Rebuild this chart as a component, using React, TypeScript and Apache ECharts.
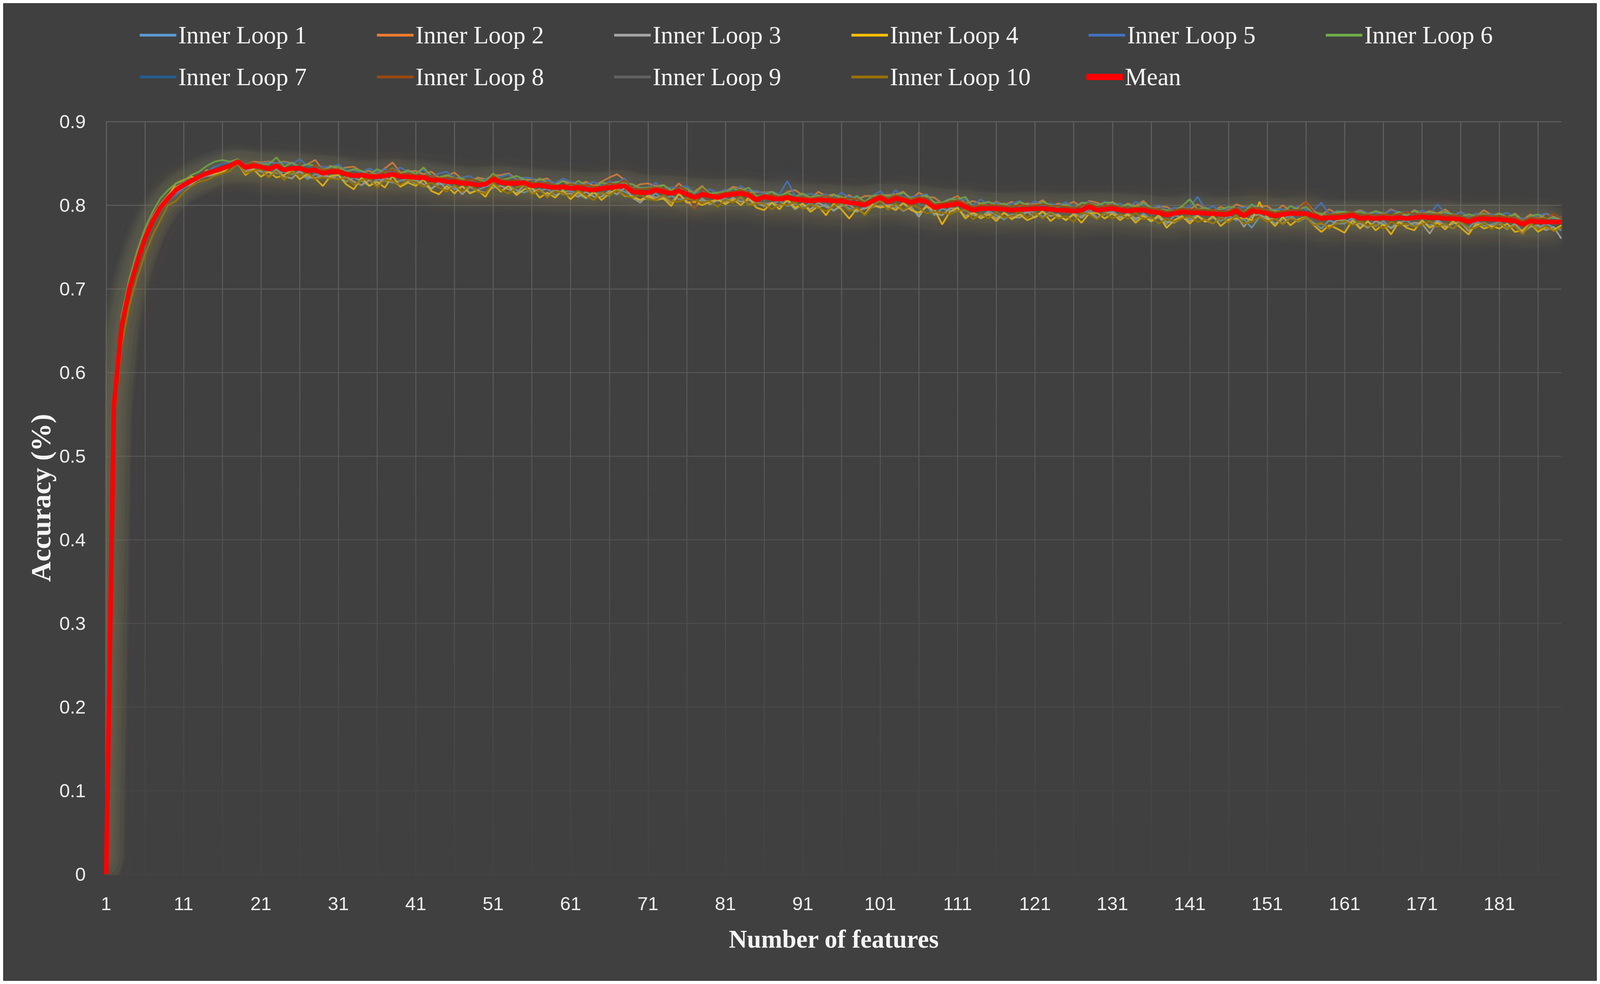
import React, { useEffect, useRef } from "react";
import * as echarts from "echarts";

// Number of features (category axis)
const features: string[] = Array.from({ length: 189 }, (_, i) => String(i + 1));

// Accuracy values, in thousandths
const mean = [
  0,560,655,700,732,760,781,797,808,818,
  824,829,834,838,841,844,847,852,845,847,
  846,843,847,842,844,844,841,842,838,840,
  840,837,835,836,834,834,835,837,834,834,
  833,833,830,830,828,828,826,826,824,825,
  831,827,826,826,827,823,824,822,821,822,
  820,821,819,818,820,821,822,823,816,815,
  815,818,816,814,817,813,809,813,811,809,
  812,813,814,812,806,810,808,807,809,807,
  806,805,806,806,805,805,803,802,800,805,
  809,804,808,806,803,806,804,797,799,800,
  802,798,794,796,796,796,795,794,795,795,
  796,796,795,794,794,793,794,798,794,795,
  796,794,793,794,794,792,791,788,790,792,
  791,791,790,790,789,789,793,787,793,792,
  790,787,789,790,790,790,787,784,785,785,
  786,788,784,785,784,785,784,785,784,785,
  786,785,785,784,784,783,780,783,784,783,
  783,782,781,777,781,780,780,780,780,
];

const loop1 = [
  0,565,660,705,735,762,784,800,806,816,
  822,826,833,836,838,845,848,851,843,842,
  840,840,838,840,837,840,831,837,835,832,
  836,828,833,829,823,831,829,827,829,832,
  825,830,820,825,826,819,822,815,818,822,
  826,817,823,818,815,819,817,820,812,816,
  817,813,808,814,814,811,820,816,811,806,
  808,814,807,811,807,808,807,805,805,805,
  808,804,809,801,803,802,802,805,799,802,
  798,802,797,801,793,801,796,792,798,799,
  806,797,797,802,795,788,799,788,796,793,
  793,794,788,786,793,788,783,789,788,793,
  791,786,792,786,783,789,787,796,785,789,
  793,786,788,782,790,783,785,777,788,785,
  784,788,780,785,781,787,782,783,773,786,
  786,778,783,788,780,785,779,772,782,778,
  778,785,773,780,775,781,772,779,782,775,
  781,775,782,776,772,779,773,781,775,777,
  780,773,776,766,777,772,778,773,770,
];

const loop2 = [
  0,562,652,698,735,765,786,801,812,822,
  826,831,836,837,843,842,849,850,848,852,
  851,852,850,852,850,846,849,854,842,847,
  843,845,846,840,841,836,844,851,839,840,
  841,837,840,833,835,839,831,828,833,831,
  835,836,838,831,830,831,830,832,824,829,
  826,824,828,823,828,833,837,830,820,825,
  826,823,824,817,826,817,816,823,813,815,
  816,822,820,815,816,815,816,809,816,818,
  812,808,816,811,813,807,812,806,811,811,
  812,812,813,816,807,815,810,809,802,807,
  811,802,805,802,799,804,800,804,799,802,
  801,806,798,802,800,804,798,805,803,798,
  804,797,802,799,805,796,798,798,793,798,
  795,801,796,793,798,794,801,798,797,799,
  799,792,800,793,797,804,793,788,795,790,
  792,791,794,790,792,789,795,791,787,794,
  790,793,790,795,787,792,786,787,794,788,
  790,785,790,782,789,784,790,786,783,
];

const loop3 = [
  0,555,650,698,728,757,779,794,805,815,
  821,825,832,835,836,840,846,849,840,843,
  841,834,843,834,832,841,834,832,836,834,
  831,834,828,824,830,824,833,829,823,829,
  830,825,819,828,819,823,813,822,817,815,
  821,823,819,814,824,815,819,811,819,813,
  814,810,816,810,810,817,813,821,809,803,
  812,809,810,803,813,805,797,808,801,806,
  803,809,804,806,803,799,803,799,805,795,
  801,795,803,798,794,799,801,793,796,798,
  799,800,800,793,798,786,801,790,788,796,
  796,787,791,787,791,784,791,786,785,792,
  785,792,787,789,782,790,785,792,784,791,
  791,785,790,784,788,780,787,780,779,785,
  781,787,782,778,786,780,788,774,787,789,
  783,784,778,785,781,786,777,778,773,782,
  782,778,778,773,781,777,773,780,775,779,
  778,766,781,774,778,780,769,776,779,774,
  778,771,778,768,774,776,770,774,760,
];

const loop4 = [
  0,558,658,702,730,758,778,795,810,826,
  830,834,831,842,837,839,846,850,836,843,
  834,840,833,836,842,831,837,832,823,835,
  836,825,819,833,823,828,821,835,822,827,
  823,831,817,813,823,814,823,814,818,810,
  825,816,823,812,819,821,809,815,809,818,
  807,816,809,816,806,814,819,811,810,806,
  811,806,808,799,814,803,804,800,804,807,
  801,807,800,809,797,794,803,795,807,797,
  802,792,799,788,802,795,784,796,789,801,
  797,799,794,803,794,791,798,795,777,792,
  797,784,791,784,789,781,791,783,789,782,
  786,793,781,788,782,789,779,790,791,784,
  790,782,789,779,787,781,788,773,782,787,
  778,787,780,787,775,783,784,785,782,804,
  785,775,786,776,783,786,776,768,776,772,
  767,782,772,781,770,777,765,780,773,770,
  782,773,779,771,781,773,765,778,772,775,
  772,778,768,770,778,768,774,770,776,
];

const loop5 = [
  0,563,657,703,736,763,783,799,806,812,
  819,828,836,840,846,849,852,853,849,850,
  850,851,850,851,849,855,847,845,846,845,
  849,841,842,839,844,839,843,839,845,840,
  838,843,833,838,840,832,833,835,827,831,
  834,834,837,830,833,832,826,830,826,832,
  828,825,825,828,823,828,827,832,820,821,
  820,827,819,821,821,823,815,816,819,814,
  819,816,823,817,817,814,816,813,829,811,
  811,814,810,813,808,815,809,810,804,811,
  817,808,818,809,810,811,813,803,803,808,
  806,807,800,807,799,803,800,802,805,799,
  805,799,802,799,804,797,802,804,797,804,
  801,802,797,804,800,795,800,793,797,796,
  798,810,795,799,792,797,797,797,799,797,
  794,795,795,793,799,795,794,803,789,793,
  792,791,793,790,791,789,794,791,792,788,
  794,789,801,790,787,792,785,790,788,789,
  788,791,785,784,784,788,790,784,786,
];

const loop6 = [
  0,572,668,712,745,772,792,808,818,826,
  829,836,840,847,852,854,852,855,846,849,
  849,849,857,846,851,846,849,847,841,846,
  846,840,843,841,836,843,839,844,837,842,
  837,845,835,833,836,832,832,828,831,828,
  838,830,832,835,831,825,832,827,824,829,
  823,829,824,820,827,825,828,826,825,820,
  821,821,824,818,819,820,814,822,814,815,
  816,820,817,821,811,812,816,811,815,810,
  814,809,812,809,812,810,805,811,804,811,
  812,811,812,815,808,809,812,803,803,807,
  807,810,797,802,804,800,802,797,804,800,
  799,804,800,798,801,796,803,802,800,803,
  803,798,801,797,803,797,795,794,793,799,
  807,795,797,793,795,798,797,792,801,795,
  794,794,792,799,795,798,791,790,788,792,
  792,791,792,789,793,790,787,792,788,793,
  789,792,789,792,789,786,789,787,790,786,
  790,786,789,780,787,789,784,785,783,
];

const loop7 = [
  0,566,660,704,736,764,784,799,809,820,
  824,830,837,840,843,848,849,853,847,848,
  848,844,848,843,846,847,843,845,839,841,
  841,839,836,838,835,836,837,838,836,835,
  835,835,832,832,830,830,828,828,827,827,
  833,829,828,828,829,825,826,824,823,824,
  822,823,821,820,822,823,824,825,818,817,
  817,820,818,816,819,815,811,815,813,811,
  814,816,816,814,809,812,811,810,812,810,
  808,807,808,808,807,807,805,804,802,807,
  811,806,810,808,805,808,806,799,801,802,
  804,800,796,798,798,798,797,796,797,797,
  798,798,797,796,796,795,796,800,796,797,
  798,796,795,796,796,794,793,790,792,794,
  795,790,794,789,793,788,797,786,795,793,
  792,789,791,792,792,792,789,786,787,787,
  788,790,786,787,786,787,786,787,786,787,
  788,787,787,786,786,785,782,785,786,785,
  785,784,783,779,783,782,782,782,782,
];

const loop8 = [
  0,560,656,700,733,762,782,798,810,820,
  825,829,833,836,840,843,846,854,848,851,
  847,843,849,844,843,847,842,848,842,843,
  843,839,837,838,837,836,840,843,837,838,
  836,835,835,832,833,832,829,831,829,826,
  835,830,829,830,828,827,826,827,824,823,
  825,824,824,822,822,826,825,830,820,819,
  820,821,820,815,822,818,795,820,812,813,
  815,816,818,815,809,812,812,810,812,809,
  810,808,809,811,808,808,808,807,803,808,
  812,808,812,809,807,810,807,801,802,804,
  806,802,798,800,800,800,799,798,800,799,
  800,801,799,799,798,797,799,802,798,799,
  800,798,797,797,798,796,795,792,794,796,
  795,795,794,794,793,793,797,791,797,796,
  794,791,793,794,794,804,791,786,789,789,
  790,792,788,789,788,789,788,789,792,789,
  790,789,789,788,788,787,784,787,788,787,
  787,786,785,781,785,784,784,790,784,
];

const loop9 = [
  0,556,652,697,729,757,778,794,806,816,
  822,828,834,838,841,844,846,851,845,846,
  845,842,846,841,843,843,840,840,837,839,
  839,836,834,835,833,833,834,836,833,833,
  832,832,829,829,827,827,825,825,823,824,
  830,826,825,825,826,822,823,821,820,821,
  819,820,818,817,819,820,821,822,815,814,
  814,817,815,813,816,812,808,812,810,808,
  811,812,813,811,805,809,807,806,808,806,
  805,804,805,805,804,804,802,801,799,804,
  808,803,807,805,802,805,803,796,798,799,
  801,797,793,795,795,795,794,793,794,794,
  795,795,794,793,793,792,793,797,793,794,
  795,793,792,793,793,791,790,787,789,791,
  790,790,789,789,788,788,792,786,792,791,
  789,786,788,789,789,789,786,783,784,784,
  785,787,783,784,783,784,783,784,783,784,
  785,784,784,783,783,782,779,782,783,782,
  782,781,780,776,780,779,779,779,779,
];

const loop10 = [
  0,543,632,680,713,741,764,782,800,805,
  815,823,828,830,835,838,841,850,838,841,
  843,833,841,830,840,835,839,831,833,832,
  831,833,824,830,832,821,830,829,824,831,
  827,822,827,821,816,824,816,824,816,814,
  827,818,814,821,824,813,818,809,817,814,
  810,818,811,806,815,812,818,812,809,813,
  807,806,812,805,804,808,806,803,805,798,
  807,803,811,800,802,802,795,801,800,804,
  795,801,797,793,799,803,793,797,788,798,
  805,794,802,794,800,797,790,792,791,789,
  793,795,783,790,784,792,785,787,793,785,
  791,784,791,784,787,780,791,789,783,791,
  784,789,784,791,783,786,778,784,780,784,
  787,780,783,778,786,779,788,778,780,786,
  780,784,777,784,781,786,776,779,772,778,
  781,776,781,775,777,772,780,776,778,774,
  777,781,774,778,772,780,772,773,779,771,
  779,772,775,765,778,771,775,769,773,
];

const loopNames = [
  "Inner Loop 1", "Inner Loop 2", "Inner Loop 3", "Inner Loop 4", "Inner Loop 5",
  "Inner Loop 6", "Inner Loop 7", "Inner Loop 8", "Inner Loop 9", "Inner Loop 10",
];
const loopColors = [
  "#5B9BD5", "#ED7D31", "#A5A5A5", "#FFC000", "#4472C4",
  "#70AD47", "#255E91", "#9E480E", "#636363", "#997300",
];
const meanName = "Mean";
const meanColor = "#FF0000";

function rgba(hex: string, a: number): string {
  const n = parseInt(hex.slice(1), 16);
  return `rgba(${(n >> 16) & 255},${(n >> 8) & 255},${n & 255},${a})`;
}

export default function App() {
  const ref = useRef<HTMLDivElement>(null);
  const vw = typeof window !== "undefined" ? window.innerWidth : 4550;
  const vh = typeof window !== "undefined" ? window.innerHeight : 2518;
  const boxW = vw - 16;
  const boxH = vh - 16;

  useEffect(() => {
    if (!ref.current) return;
    const chart = echarts.init(ref.current, null, { renderer: "svg" });
    const kx = vw / 4550;
    const ky = vh / 2518;
    const k = kx;
    const X = (v: number) => v * kx;
    const Y = (v: number) => v * ky;
    const S = (v: number) => v * k;

    const loops = [loop1, loop2, loop3, loop4, loop5, loop6, loop7, loop8, loop9, loop10];

    const gLeft = X(293);
    const gRight = X(101);
    const gTop = Y(303);
    const gBottom = Y(273);
    const plotW = boxW - gLeft - gRight;
    const plotH = boxH - gTop - gBottom;

    const labelColor = "#eeeeee";
    const serif = "'Liberation Serif', 'Times New Roman', serif";
    const sans = "'Liberation Sans', Arial, sans-serif";
    const legendText = {
      color: "#f4f4f4",
      fontFamily: serif,
      fontSize: S(70),
      width: S(520),
      lineHeight: S(80),
    };
    const legendBase = {
      orient: "horizontal",
      itemWidth: S(104),
      itemHeight: S(8),
      itemGap: S(45),
      icon: "rect",
      selectedMode: false,
      textStyle: legendText,
    };

    const series: any[] = loops.map((arr, i) => ({
      name: loopNames[i],
      type: "line",
      data: arr.map((v) => v / 1000),
      symbol: "none",
      color: loopColors[i],
      silent: true,
      z: 2,
      lineStyle: {
        width: S(5),
        color: loopColors[i],
        opacity: 0.9,
        shadowBlur: S(60),
        shadowColor: rgba(loopColors[i], 0.95),
      },
    }));
    series.push({
      name: meanName,
      type: "line",
      data: mean.map((v) => v / 1000),
      symbol: "none",
      color: meanColor,
      silent: true,
      z: 3,
      lineStyle: { width: S(13), color: meanColor },
    });

    chart.setOption({
      animation: false,
      backgroundColor: "#404040",
      grid: { left: gLeft, right: gRight, top: gTop, bottom: gBottom },
      legend: [
        { ...legendBase, data: loopNames.slice(0, 6), left: X(383), top: Y(41) },
        { ...legendBase, data: loopNames.slice(6, 10), left: X(383), top: Y(148) },
        { ...legendBase, itemHeight: S(18), data: [meanName], left: X(3075), top: Y(148) },
      ],
      graphic: {
        elements: [
          {
            type: "rect",
            silent: true,
            z: 1,
            shape: { x: gLeft, y: gTop, width: plotW, height: plotH + S(3) },
            style: {
              fill: new echarts.graphic.LinearGradient(0, 0, 0, 1, [
                { offset: 0, color: "rgba(64,64,64,0)" },
                { offset: 0.45, color: "rgba(64,64,64,0.35)" },
                { offset: 0.9, color: "rgba(64,64,64,0.82)" },
                { offset: 1, color: "rgba(64,64,64,0.9)" },
              ]),
            },
          },
        ],
      },
      xAxis: {
        type: "category",
        data: features,
        boundaryGap: false,
        name: "Number of features",
        nameLocation: "middle",
        nameGap: Y(133),
        nameTextStyle: {
          color: "#f4f4f4",
          fontFamily: serif,
          fontSize: S(72),
          fontWeight: "bold",
        },
        axisLine: { show: false },
        axisTick: { show: false },
        axisLabel: {
          interval: 9,
          color: labelColor,
          fontFamily: sans,
          fontSize: S(54),
          margin: Y(50),
        },
        splitLine: {
          show: true,
          interval: 4,
          lineStyle: { color: "#606060", width: S(3) },
        },
      },
      yAxis: {
        type: "value",
        min: 0,
        max: 0.9,
        interval: 0.1,
        name: "Accuracy (%)",
        nameLocation: "middle",
        nameRotate: 90,
        nameGap: X(142),
        nameTextStyle: {
          color: "#f4f4f4",
          fontFamily: serif,
          fontSize: S(80),
          fontWeight: "bold",
        },
        axisLine: { show: false },
        axisTick: { show: false },
        axisLabel: {
          color: labelColor,
          fontFamily: sans,
          fontSize: S(54),
          margin: X(58),
        },
        splitLine: {
          show: true,
          lineStyle: { color: "#606060", width: S(3) },
        },
      },
      series,
    });

    return () => chart.dispose();
  }, []);

  return <div ref={ref} style={{ width: boxW, height: boxH }} />;
}
